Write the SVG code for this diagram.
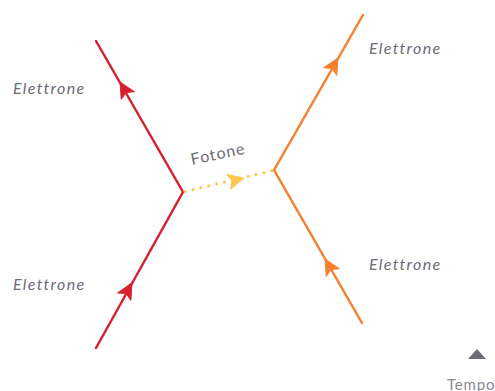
<svg xmlns="http://www.w3.org/2000/svg" width="495" height="391" viewBox="0 0 495 391">
  <style>
    .red { stroke: #d6222f; stroke-width: 2.5; fill: none; stroke-linecap: round; }
    .orange { stroke: #f7802f; stroke-width: 2.5; fill: none; stroke-linecap: round; }
    .photon { stroke: #fdc64c; stroke-width: 3; fill: none; stroke-linecap: round; stroke-dasharray: 0.1 8; }
    .lbl { font-family: "Lato", "Open Sans", sans-serif; font-size: 16px; font-style: italic; fill: #6d6b7c; letter-spacing: 1.3px; }
    .lbl2 { font-family: "Lato", "Open Sans", sans-serif; font-size: 16px; fill: #6d6b7c; letter-spacing: 1px; }
    .axis { font-family: "Lato", "Open Sans", sans-serif; font-size: 15px; fill: #8a8a95; letter-spacing: 0.8px; }
    .ahr { fill: #d6222f; stroke: #d6222f; stroke-width: 1; stroke-linejoin: round; }
    .aho { fill: #f7802f; stroke: #f7802f; stroke-width: 1; stroke-linejoin: round; }
    .ahy { fill: #fdc64c; stroke: #fdc64c; stroke-width: 1; stroke-linejoin: round; }
  </style>
  <defs>
    <path id="ah" d="M8,0 L-7.5,-7.5 L-4,0 L-7.5,7.5 Z"/>
  </defs>
  <g id="connectors">
    <line class="red" x1="96" y1="41" x2="183" y2="192"/>
    <line class="red" x1="183" y1="192" x2="96" y2="348"/>
    <line class="orange" x1="363" y1="15" x2="274" y2="170"/>
    <line class="orange" x1="274" y1="170" x2="362" y2="323"/>
    <line class="photon" x1="185" y1="191.5" x2="273" y2="170.5"/>
    <use href="#ah" class="ahr" transform="translate(124,89) rotate(-120)"/>
    <use href="#ah" class="ahr" transform="translate(128,290) rotate(-60.8)"/>
    <use href="#ah" class="aho" transform="translate(334,65) rotate(-60.1)"/>
    <use href="#ah" class="aho" transform="translate(329,266) rotate(-119.9)"/>
    <use href="#ah" class="ahy" transform="translate(236,180) rotate(-13.6)"/>
  </g>
  <g id="electron-in-top"><text class="lbl" x="13" y="94">Elettrone</text></g>
  <g id="electron-in-bottom"><text class="lbl" x="13" y="290">Elettrone</text></g>
  <g id="electron-out-top"><text class="lbl" x="369" y="54">Elettrone</text></g>
  <g id="electron-out-bottom"><text class="lbl" x="369" y="270">Elettrone</text></g>
  <g id="photon-label"><text class="lbl2" x="192" y="165" transform="rotate(-12 192 165)">Fotone</text></g>
  <g id="time-axis">
    <polygon points="468,359 486,359 477,349" fill="#6d6b7c"/>
    <text class="axis" x="447" y="390">Tempo</text>
  </g>
</svg>
